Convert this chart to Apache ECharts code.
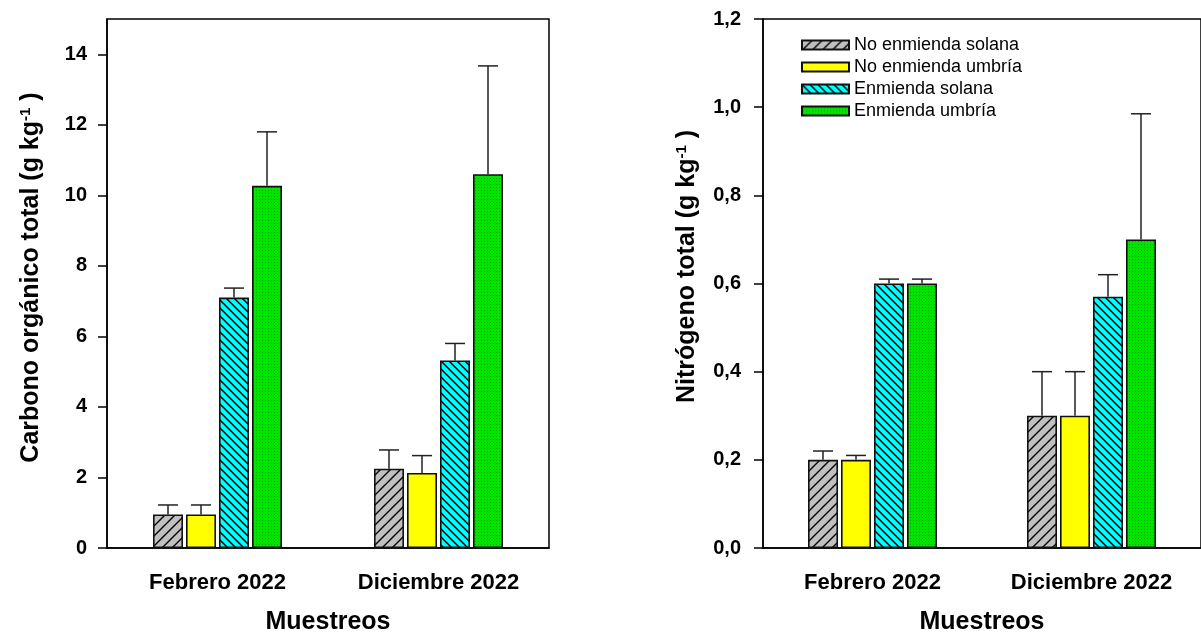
<!DOCTYPE html>
<html>
<head>
<meta charset="utf-8">
<script src="https://cdn.jsdelivr.net/npm/echarts@6/dist/echarts.min.js"></script>
<style>
html,body{margin:0;padding:0;background:#fff;}
#c{width:1201px;height:641px;}
</style>
</head>
<body>
<div id="c"></div>
<script>
// ---------- DATA ----------
const categories = ['Febrero 2022', 'Diciembre 2022'];
const seriesNames = ['No enmienda solana', 'No enmienda umbría', 'Enmienda solana', 'Enmienda umbría'];
// Carbono orgánico total (g kg-1): mean values per series [Feb, Dic]
const carbonoNoSolana   = [0.95, 2.25];
const carbonoNoUmbria   = [0.95, 2.13];
const carbonoSolana     = [7.1, 5.32];
const carbonoUmbria     = [10.27, 10.6];
// top of error bar (mean + error)
const carbonoNoSolanaErr = [1.22, 2.78];
const carbonoNoUmbriaErr = [1.22, 2.62];
const carbonoSolanaErr   = [7.37, 5.8];
const carbonoUmbriaErr   = [11.8, 13.67];
// Nitrógeno total (g kg-1)
const nitroNoSolana   = [0.20, 0.30];
const nitroNoUmbria   = [0.20, 0.30];
const nitroSolana     = [0.60, 0.57];
const nitroUmbria     = [0.60, 0.70];
const nitroNoSolanaErr = [0.22, 0.40];
const nitroNoUmbriaErr = [0.21, 0.40];
const nitroSolanaErr   = [0.61, 0.62];
const nitroUmbriaErr   = [0.61, 0.985];
// tick labels
const carbonoTicks = [0, 2, 4, 6, 8, 10, 12, 14];
const nitroTicks = [0, 0.2, 0.4, 0.6, 0.8, 1.0, 1.2];

// ---------- PATTERNS ----------
function hatch(size, bg, dir) {
  const c = document.createElement('canvas');
  c.width = size; c.height = size;
  const g = c.getContext('2d');
  g.fillStyle = bg; g.fillRect(0, 0, size, size);
  g.strokeStyle = '#000'; g.lineWidth = 1.4;
  g.beginPath();
  if (dir === '/') {
    g.moveTo(-1, size + 1); g.lineTo(size + 1, -1);
    g.moveTo(-2, 2); g.lineTo(2, -2);
    g.moveTo(size - 2, size + 2); g.lineTo(size + 2, size - 2);
  } else {
    g.moveTo(-1, -1); g.lineTo(size + 1, size + 1);
    g.moveTo(size - 2, -2); g.lineTo(size + 2, 2);
    g.moveTo(-2, size - 2); g.lineTo(2, size + 2);
  }
  g.stroke();
  return {image: c, repeat: 'repeat'};
}
function dots() {
  const c = document.createElement('canvas');
  c.width = 3; c.height = 3;
  const g = c.getContext('2d');
  g.fillStyle = '#00e400'; g.fillRect(0, 0, 3, 3);
  g.fillStyle = '#00a800'; g.fillRect(1, 1, 1, 1);
  return {image: c, repeat: 'repeat'};
}
const fills = [hatch(10, '#c0c0c0', '/'), '#ffff00', hatch(8, '#00ffff', '\\'), dots()];

// ---------- CHART ----------
const FONT = "'Liberation Sans', Arial, sans-serif";
const BAR_W = 30;
const BAR_GAP = 0.1;

const chart = echarts.init(document.getElementById('c'), null, {renderer: 'canvas'});

function barSeries(vals, gridIdx) {
  return vals.map((v, i) => ({
    type: 'bar',
    name: seriesNames[i],
    xAxisIndex: gridIdx, yAxisIndex: gridIdx,
    data: v,
    barWidth: BAR_W,
    barGap: (BAR_GAP * 100) + '%',
    itemStyle: {color: fills[i], borderColor: '#111', borderWidth: 1.6},
    emphasis: {disabled: true},
    animation: false
  }));
}
function errSeries(vals, errs, gridIdx) {
  const data = [];
  vals.forEach((v, s) => v.forEach((val, c) => data.push([c, s, val, errs[s][c]])));
  return {
    type: 'custom',
    xAxisIndex: gridIdx, yAxisIndex: gridIdx,
    data: data,
    z: 5,
    silent: true,
    animation: false,
    renderItem: function (params, api) {
      const c = api.value(0), s = api.value(1);
      const step = BAR_W * (1 + BAR_GAP);
      const off = (s - 1.5) * step;
      const p0 = api.coord([c, api.value(2)]);
      const p1 = api.coord([c, api.value(3)]);
      const x = p0[0] + off;
      const st = {stroke: '#222', lineWidth: 1.5};
      return {type: 'group', children: [
        {type: 'line', shape: {x1: x, y1: p0[1], x2: x, y2: p1[1]}, style: st},
        {type: 'line', shape: {x1: x - 10, y1: p1[1], x2: x + 10, y2: p1[1]}, style: st}
      ]};
    }
  };
}

const carbonoVals = [carbonoNoSolana, carbonoNoUmbria, carbonoSolana, carbonoUmbria];
const carbonoErrs = [carbonoNoSolanaErr, carbonoNoUmbriaErr, carbonoSolanaErr, carbonoUmbriaErr];
const nitroVals = [nitroNoSolana, nitroNoUmbria, nitroSolana, nitroUmbria];
const nitroErrs = [nitroNoSolanaErr, nitroNoUmbriaErr, nitroSolanaErr, nitroUmbriaErr];

const axisLineStyle = {color: '#000', width: 1.5};
function xAxis(gridIdx) {
  return {
    type: 'category', gridIndex: gridIdx, data: categories,
    axisLine: {lineStyle: axisLineStyle},
    axisTick: {alignWithLabel: true, length: 8, lineStyle: axisLineStyle},
    axisLabel: {color: '#000', fontFamily: FONT, fontWeight: 'bold', fontSize: 22, margin: 24},
    name: 'Muestreos', nameLocation: 'middle', nameGap: 62,
    nameTextStyle: {color: '#000', fontFamily: FONT, fontWeight: 'bold', fontSize: 25}
  };
}
function yAxis(gridIdx, max, interval, ticks, fmt, title, margin, shift) {
  return {
    type: 'value', gridIndex: gridIdx, min: 0, max: max, interval: interval,
    splitLine: {show: false},
    axisLine: {show: true, lineStyle: axisLineStyle},
    axisTick: {show: true, length: 9, lineStyle: axisLineStyle, customValues: ticks},
    axisLabel: {color: '#000', fontFamily: FONT, fontWeight: 'bold', fontSize: 20, margin: margin,
      customValues: ticks, formatter: fmt},
    name: title, nameLocation: 'middle', nameRotate: 90, nameGap: 62,
    nameTextStyle: {
      color: '#000', fontFamily: FONT, fontWeight: 'bold', fontSize: 25,
      padding: [0, 0, 0, shift],
      rich: {
        a: {fontFamily: FONT, fontWeight: 'bold', fontSize: 25, color: '#000'},
        sup: {fontFamily: FONT, fontWeight: 'bold', fontSize: 15, color: '#000', verticalAlign: 'top', padding: [0, 0, 12, 0]}
      }
    }
  };
}

chart.setOption({
  animation: false,
  backgroundColor: '#fff',
  textStyle: {fontFamily: FONT},
  grid: [
    {left: 107, top: 19, right: 652, bottom: 93, show: true, borderColor: '#000', borderWidth: 1.5, backgroundColor: 'transparent'},
    {left: 763, top: 19, right: -10, bottom: 93, show: true, borderColor: '#000', borderWidth: 1.5, backgroundColor: 'transparent'}
  ],
  legend: {
    data: seriesNames,
    orient: 'vertical',
    left: 796, top: 31,
    itemWidth: 47, itemHeight: 9, itemGap: 4,
    icon: 'rect',
    textStyle: {color: '#000', fontFamily: FONT, fontSize: 18, lineHeight: 18, padding: [0, 0, 0, 0]},
    selectedMode: false
  },
  xAxis: [xAxis(0), xAxis(1)],
  yAxis: [
    yAxis(0, 15, 2, carbonoTicks, v => String(v), '{a|Carbono orgánico total (g kg}{sup|-1}{a| )}', 20, 12),
    yAxis(1, 1.2, 0.2, nitroTicks, v => v.toFixed(1).replace('.', ','), '{a|Nitrógeno total (g kg}{sup|-1}{a| )}', 22, 34)
  ],
  series: [].concat(
    barSeries(carbonoVals, 0),
    barSeries(nitroVals, 1),
    [errSeries(carbonoVals, carbonoErrs, 0), errSeries(nitroVals, nitroErrs, 1)]
  )
});
</script>
</body>
</html>
